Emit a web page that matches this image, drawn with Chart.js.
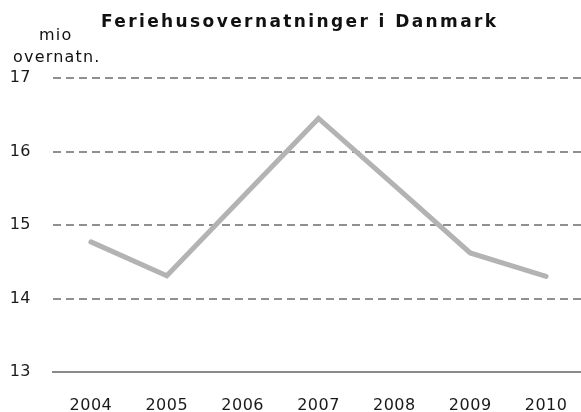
<!DOCTYPE html>
<html>
<head>
<meta charset="utf-8">
<script src="https://cdn.jsdelivr.net/npm/chart.js@4"></script>
<style>
html,body{margin:0;padding:0;background:#fff;overflow:hidden;width:581px;height:412px;}
#wrap{position:relative;width:584px;height:412px;}
</style>
</head>
<body>
<div id="wrap"><canvas id="c" width="584" height="412"></canvas></div>
<script>
const categories = ["2004","2005","2006","2007","2008","2009","2010"];
const overnatninger = [14.77, 14.31, 15.38, 16.45, 15.54, 14.62, 14.30];
const yTicks = [13, 14, 15, 16, 17];
const titleText = "Feriehusovernatninger i Danmark";
const unitLines = ["mio", "overnatn."];

const FONT = "'DejaVu Sans', Verdana, sans-serif";

const textPlugin = {
  id: 'texts',
  beforeDraw(chart) {
    chart.ctx.letterSpacing = '0.5px';
  },
  afterDraw(chart) {
    const ctx = chart.ctx;
    ctx.save();
    ctx.fillStyle = '#111';
    ctx.textBaseline = 'alphabetic';
    ctx.font = "bold 17px " + FONT;
    ctx.letterSpacing = '2.4px';
    ctx.textAlign = 'left';
    const w = ctx.measureText(titleText).width - 2.4;
    ctx.fillText(titleText, 298.5 - w / 2, 27);
    ctx.font = "16px " + FONT;
    ctx.letterSpacing = '1.2px';
    ctx.fillText(unitLines[0], 39, 40);
    ctx.fillText(unitLines[1], 13, 62);
    ctx.restore();
  }
};

new Chart(document.getElementById('c'), {
  type: 'line',
  data: {
    labels: categories,
    datasets: [{
      data: overnatninger,
      borderColor: '#b3b3b3',
      borderWidth: 5,
      pointRadius: 0,
      tension: 0,
      fill: false,
      borderCapStyle: 'round',
      borderJoinStyle: 'miter'
    }]
  },
  options: {
    responsive: false,
    animation: false,
    devicePixelRatio: 1,
    layout: { padding: { top: 78, left: 0, right: 0, bottom: 0 } },
    plugins: { legend: { display: false }, tooltip: { enabled: false }, title: { display: false } },
    scales: {
      x: {
        offset: true,
        grid: { display: true, drawOnChartArea: false, drawTicks: true, tickLength: 21, color: 'rgba(0,0,0,0)' },
        border: { display: true, color: '#8a8a8a', width: 2 },
        ticks: { color: '#1a1a1a', font: { family: FONT, size: 16 }, padding: 3, maxRotation: 0 },
        afterFit(s) { s.height = 40; }
      },
      y: {
        min: 13, max: 17,
        afterBuildTicks(s) { s.ticks = yTicks.map(v => ({ value: v })); },
        grid: { color: '#909090', lineWidth: 2, drawTicks: false },
        border: { display: false, dash: [8, 5] },
        ticks: { color: '#1a1a1a', font: { family: FONT, size: 16 }, padding: 22 },
        afterFit(s) { s.width = 53; }
      }
    }
  },
  plugins: [textPlugin]
});
</script>
</body>
</html>
